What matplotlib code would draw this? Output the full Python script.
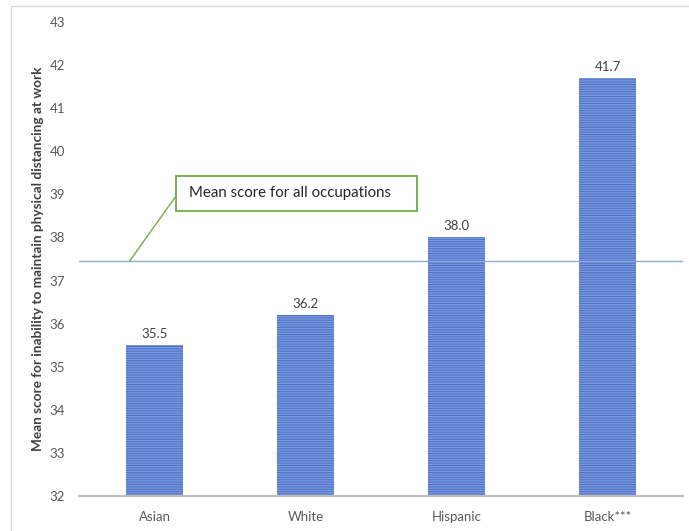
import matplotlib
matplotlib.use("Agg")
import matplotlib.pyplot as plt
from matplotlib.patches import Rectangle

plt.rcParams['font.family'] = ['Lato', 'DejaVu Sans']
plt.rcParams['hatch.linewidth'] = 0.8

categories = ["Asian", "White", "Hispanic", "Black***"]
scores = [35.5, 36.2, 38.0, 41.7]
value_labels = ["35.5", "36.2", "38.0", "41.7"]
mean_all = 37.45
y_ticks = list(range(32, 44))
annotation_text = "Mean score for all occupations"
y_title = "Mean score for inability to maintain physical distancing at work"

fig = plt.figure(figsize=(6.89, 5.31), dpi=100)

# light frame around the chart area
fig.patches.append(Rectangle((11 / 689, -0.05), 1.0, 1 - 6 / 531 + 0.05,
                             transform=fig.transFigure, fill=False,
                             edgecolor="#d9d9d9", linewidth=1.0))

ax = fig.add_axes([79 / 689, 35 / 531, 604 / 689, 474 / 531])
x = range(len(categories))
bars = ax.bar(x, [s - 32 for s in scores], bottom=32, width=0.38,
              color="#7b9be0", edgecolor="#4f72c8", linewidth=0,
              hatch="-------")

for xi, s, lab in zip(x, scores, value_labels):
    ax.text(xi, s + 0.12, lab, ha="center", va="bottom", fontsize=9.5,
            color="#404040")

ax.set_xlim(-0.5, len(categories) - 0.5)
ax.set_ylim(32, 43)
ax.set_yticks(y_ticks)
ax.set_xticks(list(x))
ax.set_xticklabels(categories)
ax.tick_params(axis="both", length=0, labelsize=9.5, colors="#595959")
ax.tick_params(axis="y", pad=10)
ax.tick_params(axis="x", pad=11)
for side in ("left", "right", "top"):
    ax.spines[side].set_visible(False)
ax.spines["bottom"].set_color("#bfbfbf")
ax.spines["bottom"].set_linewidth(1.6)

ax.axhline(mean_all, color="#8faadc", linewidth=1.0)

ax.set_ylabel(y_title, fontsize=9.8, color="#404040", fontweight="bold",
              labelpad=4)

# callout box for the mean line
box_x, box_y, box_w, box_h = 0.1606, 0.6013, 0.399, 0.0738
ax.add_patch(Rectangle((box_x, box_y), box_w, box_h, transform=ax.transAxes,
                       facecolor="white", edgecolor="#70ad47", linewidth=1.3,
                       zorder=4))
ax.text(box_x + 0.022, box_y + box_h / 2, annotation_text,
        transform=ax.transAxes, fontsize=10.8, color="#262626",
        va="center", ha="left", zorder=5)
ax.annotate("", xy=(-0.165, mean_all), xycoords="data",
            xytext=(box_x, 0.633), textcoords="axes fraction",
            arrowprops=dict(arrowstyle="-", color="#70ad47", lw=1.0,
                            shrinkA=0, shrinkB=0))

fig.savefig("out.png", dpi=100)
